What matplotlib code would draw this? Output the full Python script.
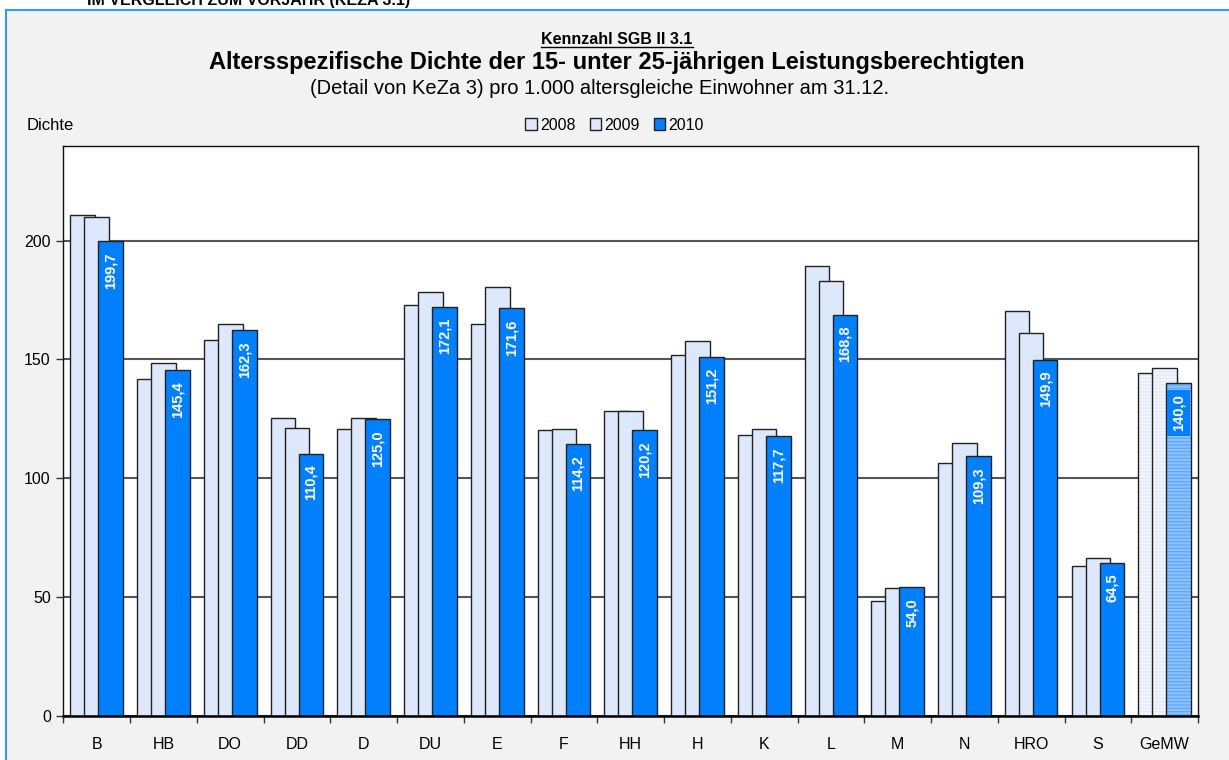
import numpy as np
import matplotlib
matplotlib.use("Agg")
import matplotlib.pyplot as plt
from matplotlib.patches import Rectangle

plt.rcParams['font.family'] = ['Liberation Sans', 'DejaVu Sans']

# data
cities = ['B', 'HB', 'DO', 'DD', 'D', 'DU', 'E', 'F', 'HH', 'H', 'K', 'L',
          'M', 'N', 'HRO', 'S', 'GeMW']
v2008 = [210.8, 141.6, 158.3, 125.5, 120.6, 173.1, 164.8, 120.1, 128.2, 151.9,
         118.0, 189.2, 48.3, 106.3, 170.3, 63.1, 144.5]
v2009 = [209.9, 148.7, 164.8, 121.3, 125.5, 178.2, 180.5, 120.6, 128.2, 157.9,
         120.6, 183.2, 53.9, 114.7, 161.3, 66.2, 146.6]
v2010 = [199.7, 145.4, 162.3, 110.4, 125.0, 172.1, 171.6, 114.2, 120.2, 151.2,
         117.7, 168.8, 54.0, 109.3, 149.9, 64.5, 140.0]
years = ['2008', '2009', '2010']
yticks = [0, 50, 100, 150, 200]

light = '#DDE8FC'
blue = '#0080FF'
edge = '#222222'

fig = plt.figure(figsize=(12.29, 7.60), dpi=100, facecolor='white')
# grey chart area with blue frame
fig.patches.append(Rectangle((6 / 1229, -0.01), 1.0, (760 - 10) / 760 + 0.01,
                             transform=fig.transFigure, facecolor='#F2F2F2',
                             edgecolor='#3399FF', lw=1.5, zorder=-5))

ax = fig.add_axes([63.3 / 1229, (760 - 715.7) / 760,
                   (1198 - 63.3) / 1229, (715.7 - 145.7) / 760])
ax.set_facecolor('white')

x = np.arange(len(cities))
n = len(cities) - 1  # last group (GeMW) drawn hatched
w = 0.37
offs = [-0.21, 0.0, 0.21]

bars = []
for k, (vals, col) in enumerate(zip([v2008, v2009, v2010], [light, light, blue])):
    b = ax.bar(x[:n] + offs[k], vals[:n], w, color=col, edgecolor=edge,
               lw=1.0, zorder=3 + k, label=years[k])
    bars.append(b)
    # GeMW bar: striped look
    if k < 2:
        fc, hc = '#F3F6FE', '#E2EAFC'
    else:
        fc, hc = '#8EC3FF', '#5EA8FF'
    ax.bar(x[n] + offs[k], vals[n], w, color=fc, edgecolor=hc, lw=0,
           hatch='-----', zorder=3 + k)
    ax.bar(x[n] + offs[k], vals[n], w, fill=False, edgecolor=edge, lw=1.0,
           zorder=3 + k)

# value labels for 2010 (only the striped GeMW bar shows the label box)
for i, (xi, v) in enumerate(zip(x + offs[2], v2010)):
    box = dict(boxstyle='square,pad=0.3', fc=blue, ec='none') if i == n else None
    ax.annotate(f'{v:.1f}'.replace('.', ','), (xi, v), xytext=(0, -8),
                textcoords='offset points', rotation=90, ha='center', va='top',
                color='white', fontsize=10.5, fontweight='bold', zorder=10,
                bbox=box)

ax.set_xlim(-0.5, len(cities) - 0.5)
ax.set_ylim(0, 240)
ax.set_yticks(yticks)
ax.set_yticklabels([str(t) for t in yticks], fontsize=11.5)
ax.yaxis.grid(True, color='#555555', lw=1.5, zorder=1)
ax.set_axisbelow(True)
ax.tick_params(axis='y', length=5, width=1, color='#333333', pad=4)

ax.set_xticks(x)
ax.set_xticklabels(cities, fontsize=11.5)
ax.set_xticks(np.arange(-0.5, len(cities)), minor=True)
ax.tick_params(axis='x', which='major', length=0, pad=15)
ax.tick_params(axis='x', which='minor', length=5, width=1, color='#333333')

for s in ['left', 'right', 'top']:
    ax.spines[s].set_color('#111111')
    ax.spines[s].set_linewidth(1.0)
ax.spines['bottom'].set_linewidth(1.8)
ax.spines['bottom'].set_zorder(8)

# texts
fig.text(87 / 1229, 1 - 5 / 760, 'IM VERGLEICH ZUM VORJAHR (KEZA 3.1)',
         fontsize=11.5, fontweight='bold', va='baseline', ha='left')
t = fig.text(0.502, 1 - 40 / 760, 'Kennzahl SGB II 3.1', fontsize=11.5,
             fontweight='bold', ha='center', va='center')
fig.text(0.502, 1 - 62 / 760,
         'Altersspezifische Dichte der 15- unter 25-jährigen Leistungsberechtigten',
         fontsize=17, fontweight='bold', ha='center', va='center')
fig.text(0.488, 1 - 88 / 760,
         '(Detail von KeZa 3) pro 1.000 altersgleiche Einwohner am 31.12.',
         fontsize=14.5, ha='center', va='center')
fig.text(27 / 1229, 1 - 125 / 760, 'Dichte', fontsize=12, ha='left', va='center')

fig.canvas.draw()
bb = t.get_window_extent()
fig.add_artist(plt.Line2D([bb.x0 / 1229, bb.x1 / 1229],
                          [(bb.y0 + 1) / 760, (bb.y0 + 1) / 760],
                          transform=fig.transFigure, color='black', lw=1))

ax.legend(handles=bars, loc='center', bbox_to_anchor=(0.5, 1 - 125 / 760),
          bbox_transform=fig.transFigure, ncol=3, frameon=False, fontsize=11.5,
          handlelength=0.7, handleheight=0.7, handletextpad=0.2,
          columnspacing=0.9)

fig.savefig('out.png', dpi=100, facecolor=fig.get_facecolor())
